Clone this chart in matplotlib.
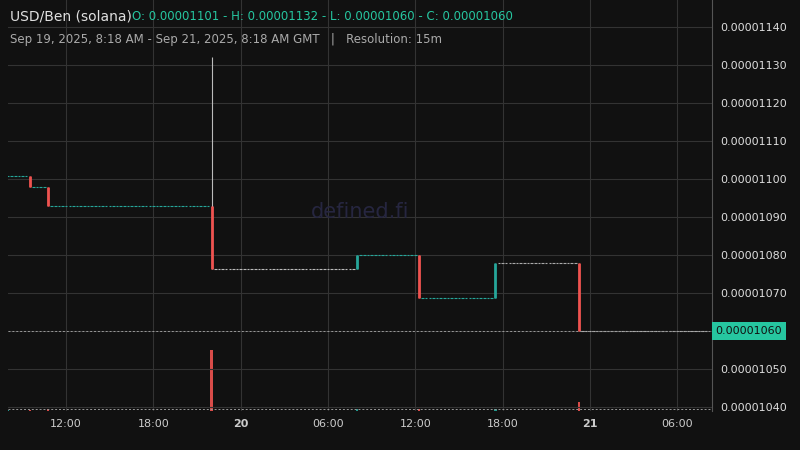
import numpy as np
import pandas as pd
import matplotlib.pyplot as plt
import matplotlib.dates as mdates

# price levels (x 1e-8) and the number of 15m candles each one lasts
levels = [1100.8, 1097.9, 1092.9, 1076.3, 1080.0, 1068.7, 1077.9, 1060.0]
counts = [6, 5, 45, 40, 17, 21, 23, 36]
level_colors = ['#26a69a', '#26a69a', '#26a69a', '#bbbbbb', '#26a69a', '#26a69a', '#aaaaaa', '#aaaaaa']
spike_high = 1132.0
# volume of the candle where each level starts
start_volumes = [0.3, 0.3, 0.5, 15.0, 0.4, 0.4, 0.5, 2.3]

start = pd.Timestamp('2025-09-19 08:00')
up, down = '#26a69a', '#ef5350'

opens, closes, highs, lows, vols, cols = [], [], [], [], [], []
prev = levels[0]
for lv, n, c, v in zip(levels, counts, level_colors, start_volumes):
    for i in range(n):
        o = prev if i == 0 else lv
        opens.append(o); closes.append(lv)
        highs.append(max(o, lv)); lows.append(min(o, lv))
        vols.append(v if i == 0 else 0.05)
        cols.append(c if o == lv else (up if lv > o else down))
    prev = lv
highs[sum(counts[:3])] = spike_high
times = mdates.date2num(start + pd.to_timedelta(np.arange(len(opens)) * 15, 'min'))
w = 15 / 1440 * 0.7

fig = plt.figure(figsize=(8, 4.5), dpi=100, facecolor='#111111')
ax = fig.add_axes([0.01, 0.087, 0.88, 0.913], facecolor='#111111')
vax = ax.twinx()
vax.set_zorder(0); ax.set_zorder(1); ax.patch.set_visible(False)
vax.bar(times, vols, width=w, color=[c if c in (up, down) else '#888888' for c in cols], alpha=0.9)
vax.set_ylim(0, max(vols) * 6.8)
vax.axis('off')

for t, o, c, h, l, col in zip(times, opens, closes, highs, lows, cols):
    ax.vlines(t, l, h, color='#bbbbbb' if h == spike_high else col, lw=0.8)
    if o == c:
        ax.hlines(o, t - w / 2, t + w / 2, color=col, lw=0.8)
    else:
        ax.vlines(t, min(o, c), max(o, c), color=col, lw=2)

ax.set_ylim(1038.9, 1147.1)
ax.set_xlim(mdates.date2num(pd.Timestamp('2025-09-19 08:00')), mdates.date2num(pd.Timestamp('2025-09-21 08:24')))
ax.yaxis.tick_right()
yt = np.arange(1040, 1141, 10)
ax.set_yticks(yt)
ax.set_yticklabels(['' if v == 1060 else f'0.0000{v:04d}' for v in yt], color='#dddddd', fontsize=8)
xt = pd.date_range('2025-09-19 12:00', '2025-09-21 06:00', freq='6h')
ax.set_xticks(mdates.date2num(xt))
ax.set_xticklabels([str(t.day) if t.hour == 0 else t.strftime('%H:%M') for t in xt], fontsize=8, color='#cccccc')
for lab, t in zip(ax.get_xticklabels(), xt):
    if t.hour == 0:
        lab.set_fontweight('bold')
ax.tick_params(length=0, pad=6)
ax.grid(color='#333333', lw=0.8)
for s in ax.spines.values():
    s.set_visible(False)
ax.spines['right'].set_visible(True); ax.spines['right'].set_color('#555555')
ax.axhline(1060, color='#999999', lw=0.7, ls=(0, (2, 2)))
ax.axhline(1039.3, color='#999999', lw=0.7, ls=(0, (2, 2)))
ax.text(1.005, 1060, '0.00001060', transform=ax.get_yaxis_transform(), va='center', ha='left',
        fontsize=8, color='#111111', bbox=dict(boxstyle='square,pad=0.35', fc='#26c6a0', ec='none'))
ax.text(0.5, 0.47, 'defined.fi', transform=ax.transAxes, ha='center', fontsize=15, color='#262640')

fig.text(0.012, 0.955, 'USD/Ben (solana)', color='#e0e0e0', fontsize=10)
fig.text(0.165, 0.955, 'O: 0.00001101 - H: 0.00001132 - L: 0.00001060 - C: 0.00001060', color='#26c6a0', fontsize=8.5)
fig.text(0.012, 0.905, 'Sep 19, 2025, 8:18 AM - Sep 21, 2025, 8:18 AM GMT   |   Resolution: 15m', color='#aaaaaa', fontsize=8.5)
fig.savefig('out.png', dpi=100, facecolor='#111111')
